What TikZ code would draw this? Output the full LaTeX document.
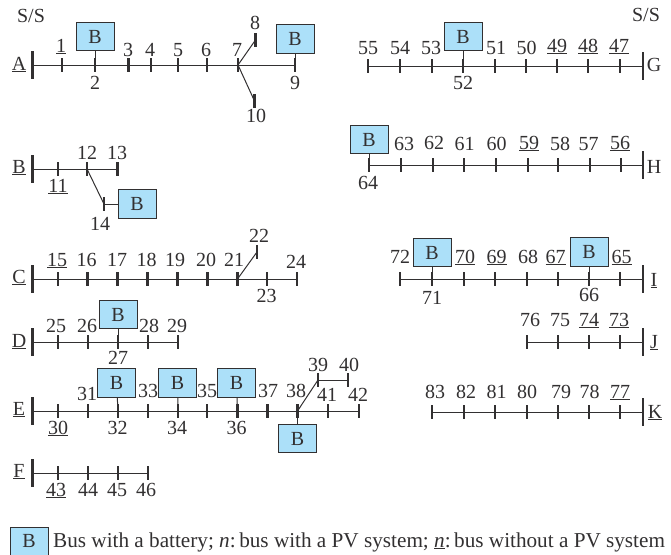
\documentclass[tikz,border=0pt]{standalone}
\usepackage{fontspec}
\setmainfont{Liberation Serif}
\definecolor{boxblue}{RGB}{172,224,249}
\definecolor{inkgray}{RGB}{50,48,49}
\tikzset{
  feeder/.style={draw=inkgray, line width=1},
  tick/.style={fill=inkgray, minimum width=2.2pt, minimum height=14pt, inner sep=0, outer sep=0},
  ssbar/.style={fill=inkgray, minimum width=2.4pt, minimum height=28.5pt, inner sep=0, outer sep=0},
  num/.style={font=\fontsize{20}{20}\selectfont, text=inkgray, inner sep=0, anchor=base, yshift=-6pt},
  keyline/.style={font=\fontsize{21.2}{21.2}\selectfont, text=inkgray, inner sep=0, anchor=base west, yshift=-6pt},
  battery/.style={draw=inkgray, fill=boxblue, line width=0.9, minimum width=38pt, minimum height=28.5pt, inner sep=0, font=\fontsize{20}{20}\selectfont, text=inkgray}
}
\begin{document}
\begin{tikzpicture}[x=1pt,y=1pt,yscale=-1,xscale=1]
\useasboundingbox (0,0) rectangle (671,554);
\node [num] (ssleft) at (31,16) {S/S};
\node [num] (ssright) at (646,15) {S/S};
\node [ssbar] (barA) at (32.5,65) {}; \node [num] (nameA) at (19,64) {\underline{A}};
\node [ssbar] (barB) at (32.5,169) {}; \node [num] (nameB) at (19,167) {\underline{B}};
\node [ssbar] (barC) at (32.5,279) {}; \node [num] (nameC) at (19,277) {\underline{C}};
\node [ssbar] (barD) at (32.5,342) {}; \node [num] (nameD) at (19,341) {\underline{D}};
\node [ssbar] (barE) at (32.5,411) {}; \node [num] (nameE) at (19,409) {\underline{E}};
\node [ssbar] (barF) at (32.5,473) {}; \node [num] (nameF) at (19,471) {\underline{F}};
\node [ssbar] (barG) at (642.7,66) {}; \node [num] (nameG) at (654,65) {G};
\node [ssbar] (barH) at (642.7,165) {}; \node [num] (nameH) at (654,167) {H};
\node [ssbar] (barI) at (642.7,279) {}; \node [num] (nameI) at (654,280) {\underline{I}};
\node [ssbar] (barJ) at (642.7,342) {}; \node [num] (nameJ) at (654,342) {\underline{J}};
\node [ssbar] (barK) at (642.7,412) {}; \node [num] (nameK) at (655,412) {\underline{K}};
\node [tick] (b1) at (62,65) {}; \node [num] (n1) at (61,46) {\underline{1}};
\node [tick] (b2) at (95,65) {}; \node [num] (n2) at (95,83) {2};
\node [tick] (b3) at (128.5,65) {}; \node [num] (n3) at (128,50) {3};
\node [tick] (b4) at (151,65) {}; \node [num] (n4) at (150,50) {4};
\node [tick] (b5) at (178,65) {}; \node [num] (n5) at (178,50) {5};
\node [tick] (b6) at (207,65) {}; \node [num] (n6) at (206,50) {6};
\node [tick] (b7) at (238,65) {}; \node [num] (n7) at (237,50) {7};
\node [tick] (b8) at (255.5,40) {}; \node [num] (n8) at (255,23) {8};
\node [tick] (b9) at (295,65) {}; \node [num] (n9) at (295,83) {9};
\node [tick] (b10) at (254.5,101) {}; \node [num] (n10) at (256,116) {10};
\node [tick] (b11) at (58,169) {}; \node [num] (n11) at (58,186) {\underline{11}};
\node [tick] (b12) at (87,169) {}; \node [num] (n12) at (87,153) {12};
\node [tick] (b13) at (117.5,169) {}; \node [num] (n13) at (117,153) {13};
\node [tick] (b14) at (104,204) {}; \node [num] (n14) at (100,224) {14};
\node [tick] (b15) at (57.7,279) {}; \node [num] (n15) at (57,260) {\underline{15}};
\node [tick] (b16) at (87.5,279) {}; \node [num] (n16) at (86.5,260) {16};
\node [tick] (b17) at (117.5,279) {}; \node [num] (n17) at (117,260) {17};
\node [tick] (b18) at (147.5,279) {}; \node [num] (n18) at (146.5,260) {18};
\node [tick] (b19) at (177.5,279) {}; \node [num] (n19) at (175,260) {19};
\node [tick] (b20) at (207.5,279) {}; \node [num] (n20) at (206,260) {20};
\node [tick] (b21) at (237.5,279) {}; \node [num] (n21) at (234,260) {21};
\node [tick] (b22) at (257,252) {}; \node [num] (n22) at (259,236) {22};
\node [tick] (b23) at (267,279) {}; \node [num] (n23) at (266.5,296) {23};
\node [tick] (b24) at (297,279) {}; \node [num] (n24) at (296,262) {24};
\node [tick] (b25) at (58,342) {}; \node [num] (n25) at (56,326) {25};
\node [tick] (b26) at (88,342) {}; \node [num] (n26) at (87,326) {26};
\node [tick] (b27) at (118,342) {}; \node [num] (n27) at (118,358) {27};
\node [tick] (b28) at (148,342) {}; \node [num] (n28) at (149,326) {28};
\node [tick] (b29) at (178,342) {}; \node [num] (n29) at (177,326) {29};
\node [tick] (b30) at (58,411) {}; \node [num] (n30) at (58,428) {\underline{30}};
\node [tick] (b31) at (88,411) {}; \node [num] (n31) at (87,394) {31};
\node [tick] (b32) at (118,411) {}; \node [num] (n32) at (117.5,428) {32};
\node [tick] (b33) at (148,411) {}; \node [num] (n33) at (148,391) {33};
\node [tick] (b34) at (178,411) {}; \node [num] (n34) at (177,428) {34};
\node [tick] (b35) at (207,411) {}; \node [num] (n35) at (207,391) {35};
\node [tick] (b36) at (237.5,411) {}; \node [num] (n36) at (236.5,428) {36};
\node [tick] (b37) at (267.5,411) {}; \node [num] (n37) at (268,391) {37};
\node [tick] (b38) at (297.5,411) {}; \node [num] (n38) at (296,391) {38};
\node [tick] (b39) at (318,380) {}; \node [num] (n39) at (318,365) {39};
\node [tick] (b40) at (348,380) {}; \node [num] (n40) at (349,365) {40};
\node [tick] (b41) at (328,411) {}; \node [num] (n41) at (327,395) {41};
\node [tick] (b42) at (359,411) {}; \node [num] (n42) at (358,395) {42};
\node [tick] (b43) at (58,473) {}; \node [num] (n43) at (56,490) {\underline{43}};
\node [tick] (b44) at (88,473) {}; \node [num] (n44) at (88,490) {44};
\node [tick] (b45) at (118,473) {}; \node [num] (n45) at (117,490) {45};
\node [tick] (b46) at (148,473) {}; \node [num] (n46) at (146,490) {46};
\node [tick] (b47) at (619.7,66) {}; \node [num] (n47) at (619,46) {\underline{47}};
\node [tick] (b48) at (588,66) {}; \node [num] (n48) at (588,46) {\underline{48}};
\node [tick] (b49) at (557,66) {}; \node [num] (n49) at (557,46) {\underline{49}};
\node [tick] (b50) at (526,66) {}; \node [num] (n50) at (526.5,48) {50};
\node [tick] (b51) at (495,66) {}; \node [num] (n51) at (496,48) {51};
\node [tick] (b52) at (463,66) {}; \node [num] (n52) at (463,83) {52};
\node [tick] (b53) at (431.7,66) {}; \node [num] (n53) at (431,48) {53};
\node [tick] (b54) at (400,66) {}; \node [num] (n54) at (400,48) {54};
\node [tick] (b55) at (368,66) {}; \node [num] (n55) at (368,48) {55};
\node [tick] (b56) at (620.7,165) {}; \node [num] (n56) at (620,143) {\underline{56}};
\node [tick] (b57) at (590,165) {}; \node [num] (n57) at (588.5,144) {57};
\node [tick] (b58) at (558,165) {}; \node [num] (n58) at (560,144) {58};
\node [tick] (b59) at (527.7,165) {}; \node [num] (n59) at (529,143) {\underline{59}};
\node [tick] (b60) at (496,165) {}; \node [num] (n60) at (496.5,144) {60};
\node [tick] (b61) at (464,165) {}; \node [num] (n61) at (464.5,144) {61};
\node [tick] (b62) at (432.7,165) {}; \node [num] (n62) at (434,143) {62};
\node [tick] (b63) at (401,165) {}; \node [num] (n63) at (404,144) {63};
\node [tick] (b64) at (369,165) {}; \node [num] (n64) at (368,183) {64};
\node [tick] (b65) at (620,279) {}; \node [num] (n65) at (621.5,257) {\underline{65}};
\node [tick] (b66) at (589,279) {}; \node [num] (n66) at (589,295) {66};
\node [tick] (b67) at (557.7,279) {}; \node [num] (n67) at (555.5,257) {\underline{67}};
\node [tick] (b68) at (526.7,279) {}; \node [num] (n68) at (528,257) {68};
\node [tick] (b69) at (495,279) {}; \node [num] (n69) at (496.5,257) {\underline{69}};
\node [tick] (b70) at (463.7,279) {}; \node [num] (n70) at (465,257) {\underline{70}};
\node [tick] (b71) at (432,279) {}; \node [num] (n71) at (432,298) {71};
\node [tick] (b72) at (400,279) {}; \node [num] (n72) at (400,257) {72};
\node [tick] (b73) at (620,342) {}; \node [num] (n73) at (619,320) {\underline{73}};
\node [tick] (b74) at (589,342) {}; \node [num] (n74) at (589,320) {\underline{74}};
\node [tick] (b75) at (557.7,342) {}; \node [num] (n75) at (560,320) {75};
\node [tick] (b76) at (526.7,342) {}; \node [num] (n76) at (530,320) {76};
\node [tick] (b77) at (620,412) {}; \node [num] (n77) at (620,392) {\underline{77}};
\node [tick] (b78) at (589,412) {}; \node [num] (n78) at (589.5,392) {78};
\node [tick] (b79) at (557.7,412) {}; \node [num] (n79) at (561,392) {79};
\node [tick] (b80) at (526.7,412) {}; \node [num] (n80) at (527,392) {80};
\node [tick] (b81) at (495,412) {}; \node [num] (n81) at (496.5,392) {81};
\node [tick] (b82) at (463.7,412) {}; \node [num] (n82) at (466,392) {82};
\node [tick] (b83) at (432,412) {}; \node [num] (n83) at (435,392) {83};
\node [battery] (box2) at (95,36.5) {B};
\node [battery] (box9) at (295,39) {B};
\node [battery] (box14) at (137,204) {B};
\node [battery] (box27) at (118,314.5) {B};
\node [battery] (box32) at (116.5,383) {B};
\node [battery] (box34) at (177.5,383) {B};
\node [battery] (box36) at (236.5,383) {B};
\node [battery] (box38) at (297.5,438.5) {B};
\node [battery] (box52) at (463,36.5) {B};
\node [battery] (box64) at (369,139.5) {B};
\node [battery] (box71) at (432,252.5) {B};
\node [battery] (box66) at (589,252) {B};
\node [battery] (boxkey) at (29,542) {\raisebox{2pt}{B}};
\node [keyline] (keytext) at (53,541) {Bus with a battery; \textit{n}:\,bus with a PV system; \underline{\textit{n}}:\,bus without a PV system};
\draw [feeder] (barA.center) -- (b9.center);
\draw [feeder] (b7.center) -- (b8.center);
\draw [feeder] (b7.center) -- (b10.center);
\draw [feeder] (box2) -- (b2.center);
\draw [feeder] (box9) -- (b9.center);
\draw [feeder] (barB.center) -- (b13.center);
\draw [feeder] (b12.center) -- (b14.center);
\draw [feeder] (b14.center) -- (box14);
\draw [feeder] (barC.center) -- (b24.center);
\draw [feeder] (b21.center) -- (b22.center);
\draw [feeder] (barD.center) -- (b29.center);
\draw [feeder] (box27) -- (b27.center);
\draw [feeder] (barE.center) -- (b42.center);
\draw [feeder] (box32) -- (b32.center);
\draw [feeder] (box34) -- (b34.center);
\draw [feeder] (box36) -- (b36.center);
\draw [feeder] (b38.center) -- (box38);
\draw [feeder] (b38.center) -- (b39.center);
\draw [feeder] (b39.center) -- (b40.center);
\draw [feeder] (barF.center) -- (b46.center);
\draw [feeder] (barG.center) -- (b55.center);
\draw [feeder] (box52) -- (b52.center);
\draw [feeder] (barH.center) -- (b64.center);
\draw [feeder] (box64) -- (b64.center);
\draw [feeder] (barI.center) -- (b72.center);
\draw [feeder] (box71) -- (b71.center);
\draw [feeder] (box66) -- (b66.center);
\draw [feeder] (barJ.center) -- (b76.center);
\draw [feeder] (barK.center) -- (b83.center);
\end{tikzpicture}
\end{document}
